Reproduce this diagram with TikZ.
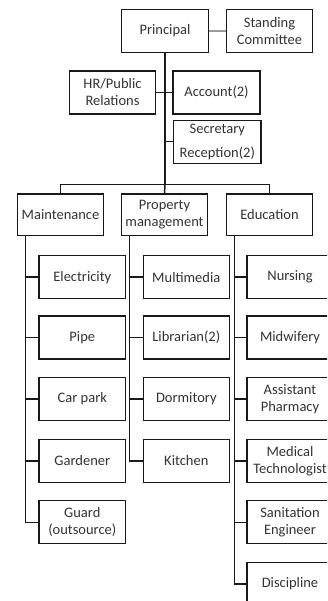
\documentclass[tikz,border=0pt]{standalone}
\usepackage{fontspec}
\setmainfont{Carlito}
\usetikzlibrary{calc}
\tikzset{
  box/.style={draw=black!90, line width=1.3pt, rectangle, align=center, inner sep=0pt,
    text=black!80, font=\fontsize{14.5}{17}\selectfont, minimum height=43pt},
  conn/.style={draw=black!90, line width=1.5pt},
  softconn/.style={draw=black!40, line width=1.5pt}
}
\begin{document}
\begin{tikzpicture}[x=1pt,y=-1pt]
\useasboundingbox (0,0) rectangle (327,601);
\clip (0,0) rectangle (327,601);
% top
\node[box, minimum width=86.6pt] (principal) at (165,31) {Principal};
\node[box, minimum width=85.6pt] (standing) at (269.5,31) {Standing\\Committee};
\node[box, minimum width=86.4pt] (hr) at (112.5,92.5) {HR/Public\\Relations};
\node[box, minimum width=87pt] (acc) at (216.5,92.5) {Account(2)};
\node[box, minimum width=87.3pt, font=\fontsize{14.5}{24}\selectfont] (sec) at (217.3,141.7) {Secretary\\Reception(2)};
% heads
\node[box, minimum width=86.6pt, minimum height=41.7pt] (maint) at (60.5,215) {Maintenance};
\node[box, minimum width=85.6pt, minimum height=41.7pt] (prop) at (164.5,215) {Property\\management};
\node[box, minimum width=85.6pt, minimum height=41.7pt] (edu) at (269.5,215) {Education};
% left column
\node[box, minimum width=86.7pt] (elec) at (82.3,277.2) {Electricity};
\node[box, minimum width=86.7pt] (pipe) at (82.3,337.5) {Pipe};
\node[box, minimum width=86.7pt] (car) at (82.3,399) {Car park};
\node[box, minimum width=86.7pt] (gard) at (82.3,461) {Gardener};
\node[box, minimum width=86.7pt] (guard) at (82.3,522.3) {Guard\\(outsource)};
% middle column
\node[box, minimum width=86pt] (multi) at (186.3,277.2) {Multimedia};
\node[box, minimum width=86pt] (lib) at (186.3,337.5) {Librarian(2)};
\node[box, minimum width=86pt] (dorm) at (186.3,399) {Dormitory};
\node[box, minimum width=86pt] (kit) at (186.3,461) {Kitchen};
% right column
\node[box, minimum width=86pt] (nurs) at (290,277.2) {Nursing};
\node[box, minimum width=86pt] (mid) at (290,337.5) {Midwifery};
\node[box, minimum width=86pt] (pharm) at (290,399) {Assistant\\Pharmacy};
\node[box, minimum width=86pt] (medt) at (290,461) {Medical\\Technologist};
\node[box, minimum width=86pt] (san) at (290,522.3) {Sanitation\\Engineer};
\node[box, minimum width=86pt] (disc) at (290,583.8) {Discipline};
% connectors
\draw[softconn] (principal.east) -- (standing.west);
\coordinate (bus) at ($(principal.south)+(0,131.3)$);
\draw[conn] (principal.south) -- (bus);
\draw[conn] (hr.east) -- (acc.west);
\draw[conn] (sec.west) -- (sec.west -| principal.south);
\draw[conn] (maint.north) |- (bus) -| (edu.north);
\draw[conn] (bus) -- (prop.north);
% column trunks
\coordinate (lt) at ($(maint.south west)+(9,0)$);
\coordinate (mt) at ($(prop.south west)+(8.3,0)$);
\coordinate (rt) at ($(edu.south west)+(8.3,0)$);
\draw[conn] (lt) |- (guard.west);
\foreach \n in {elec,pipe,car,gard} \draw[conn] (\n.west) -- (\n.west -| lt);
\draw[conn] (mt) |- (kit.west);
\foreach \n in {multi,lib,dorm} \draw[conn] (\n.west) -- (\n.west -| mt);
\draw[conn] (rt) |- (disc.west);
\foreach \n in {nurs,mid,pharm,medt,san} \draw[conn] (\n.west) -- (\n.west -| rt);
\end{tikzpicture}
\end{document}
